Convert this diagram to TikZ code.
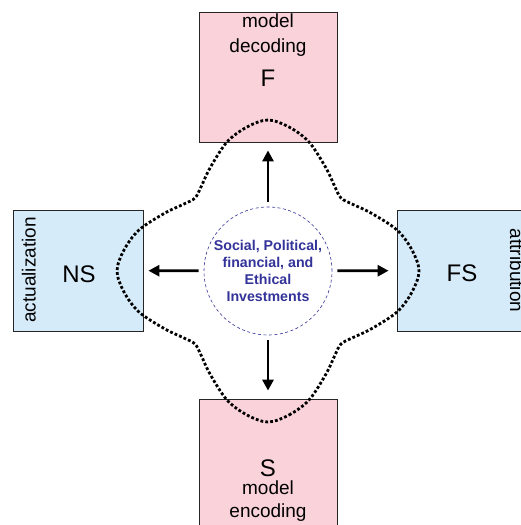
\documentclass[tikz,border=0pt]{standalone}
\usepackage{fontspec}
\setmainfont{Liberation Sans}
\usetikzlibrary{arrows.meta}
\definecolor{stagepink}{RGB}{250,211,218}
\definecolor{stageblue}{RGB}{214,235,249}
\definecolor{hubblue}{RGB}{51,51,153}

\begin{document}
\begin{tikzpicture}[
        x=1pt, y=-1pt,
        stagebox/.style={draw=black!85, line width=0.8pt, inner sep=0pt},
        smalllabel/.style={font=\fontsize{19}{23}\selectfont, inner sep=0pt, anchor=base},
        biglabel/.style={font=\fontsize{24}{28}\selectfont, inner sep=0pt, anchor=base},
        hub/.style={circle, draw=hubblue, fill=white, line width=0.6pt,
            dash pattern=on 3pt off 2.5pt, minimum size=128pt, inner sep=0pt,
            align=center, text=hubblue, font=\bfseries\fontsize{14.2}{17.2}\selectfont},
        arr/.style={-{Triangle[length=11pt,width=11pt]}, line width=2.8pt},
        dotcurve/.style={line width=2.8pt, dash pattern=on 2.8pt off 2.1pt}
    ]
        % Define box properties
        \def\boxwidth{138pt}   % Width of the pink boxes
        \def\boxheight{130pt}  % Height of the top pink box
        \def\sidewidth{130pt}  % Width of the blue boxes
        \def\sideheight{121pt} % Height of the blue boxes

        \useasboundingbox (0,0) rectangle (521,525);

        % Draw the stage boxes
        \node[stagebox, fill=stagepink, minimum width=\boxwidth, minimum height=\boxheight] (fbox) at (268,77) {};
        \node[stagebox, fill=stagepink, minimum width=\boxwidth, minimum height=140pt] (sbox) at (268,469) {};
        \node[stagebox, fill=stageblue, minimum width=\sidewidth, minimum height=\sideheight] (nsbox) at (78,270.5) {};
        \node[stagebox, fill=stageblue, minimum width=140pt, minimum height=\sideheight] (fsbox) at (467,270.5) {};

        % Texts inside the boxes
        \node[smalllabel] (fmodel) at (268,27) {model};
        \node[smalllabel] (fdecoding) at (268,52) {decoding};
        \node[biglabel] (fname) at (268,86) {F};
        \node[biglabel] (sname) at (268,476) {S};
        \node[smalllabel] (smodel) at (268,494) {model};
        \node[smalllabel] (sencoding) at (268,517) {encoding};
        \node[biglabel] (nsname) at (79,282) {NS};
        \node[biglabel] (fsname) at (462,281) {FS};
        \node[smalllabel, rotate=90] (nsside) at (35.5,270) {actualization};
        \node[smalllabel, rotate=-90] (fsside) at (510,270.5) {attribution};

        % Dotted outline round the centre
        \begin{scope}[shift={(268,271)}]
            \draw[dotcurve] plot[smooth cycle, tension=0.55] coordinates {
                (0,151) (21,144) (41,129) (58,103) (67,84) (73,73) (84,67) (103,58) (129,41) (144,21)
                (151,0) (144,-21) (129,-41) (103,-58) (84,-67) (73,-73) (67,-84) (58,-103) (41,-129) (21,-144)
                (0,-151) (-21,-144) (-41,-129) (-58,-103) (-67,-84) (-73,-73) (-84,-67) (-103,-58) (-129,-41) (-144,-21)
                (-151,0) (-144,21) (-129,41) (-103,58) (-84,67) (-73,73) (-67,84) (-58,103) (-41,129) (-21,144)};
        \end{scope}

        % Draw the centre circle
        \node[hub] (hub) at (268,271) {Social, Political,\\financial, and\\Ethical\\Investments};

        % Arrows out of the centre
        \draw[arr, shorten <=5pt, shorten >=8pt] (hub) -- (fbox);
        \draw[arr, shorten <=5pt, shorten >=8pt] (hub) -- (sbox);
        \draw[arr, shorten <=5pt, shorten >=5pt] (hub) -- (nsbox);
        \draw[arr, shorten <=5pt, shorten >=8pt] (hub) -- (fsbox);
    \end{tikzpicture}
\end{document}
